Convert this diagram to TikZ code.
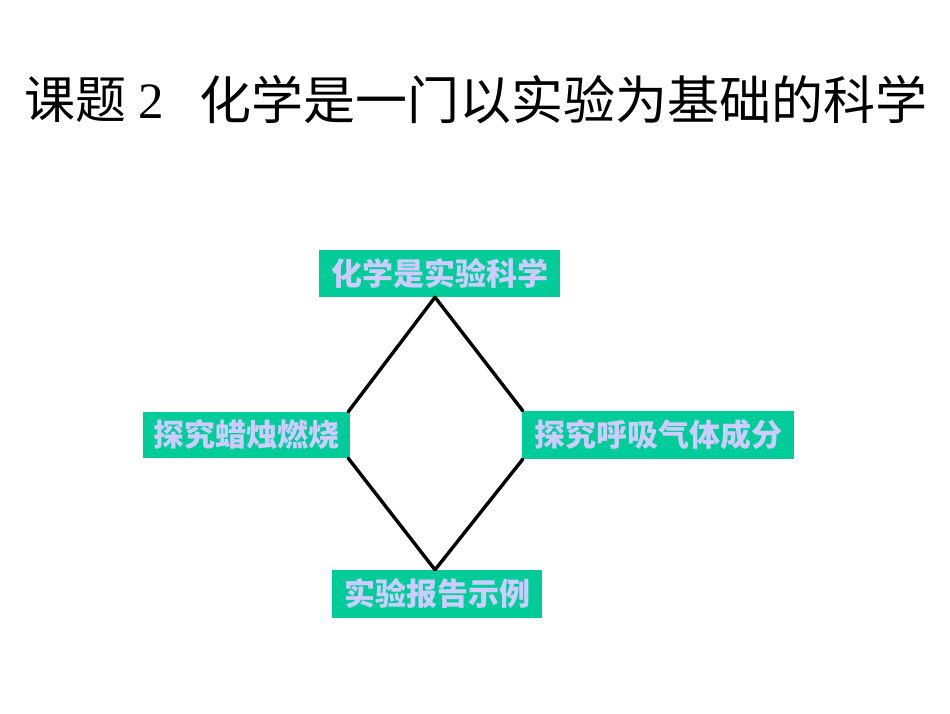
\documentclass[tikz,border=0pt]{standalone}
\usepackage{fontspec}
\setmainfont{Liberation Serif}
\newfontfamily\cjk{Noto Sans CJK SC}
\definecolor{boxgreen}{HTML}{00CC99}
\definecolor{boxtext}{HTML}{CCCCFF}
\tikzset{
  topicbox/.style={rectangle, fill=boxgreen, text=boxtext, inner sep=0pt,
    font=\cjk\bfseries\fontsize{31}{31}\selectfont},
  titletext/.style={inner sep=0pt, font=\cjk\fontsize{51}{51}\selectfont},
  link/.style={line width=3.4pt, black, line cap=round}
}
\begin{document}
\begin{tikzpicture}[x=1pt,y=-1pt]
\useasboundingbox (0,0) rectangle (950,713);
\fill[white] (0,0) rectangle (950,713);
\node[titletext] (title1) at (75,100) {课题};
\node[titletext, font=\rmfamily\fontsize{51}{51}\selectfont] (title2) at (151,102) {2};
\node[titletext, font=\cjk\fontsize{52}{52}\selectfont] (title3) at (563,100) {化学是一门以实验为基础的科学};
\node[topicbox, minimum width=241pt, minimum height=47pt] (top) at (439.5,273.5) {化学是实验科学};
\node[topicbox, minimum width=207pt, minimum height=46pt] (left) at (246.5,435) {探究蜡烛燃烧};
\node[topicbox, minimum width=272pt, minimum height=48pt] (right) at (658,435) {探究呼吸气体成分};
\node[topicbox, minimum width=210pt, minimum height=48pt] (bottom) at (437,594) {实验报告示例};
\coordinate (apextop) at ([xshift=-4.5pt]top.south);
\coordinate (apexbot) at ([xshift=-2pt]bottom.north);
\draw[link] (apextop) -- ([xshift=-2pt]left.north east);
\draw[link] (apextop) -- ([xshift=1pt]right.north west);
\draw[link] ([xshift=-2pt]left.south east) -- (apexbot);
\draw[link] ([xshift=1pt]right.south west) -- (apexbot);
\end{tikzpicture}
\end{document}
